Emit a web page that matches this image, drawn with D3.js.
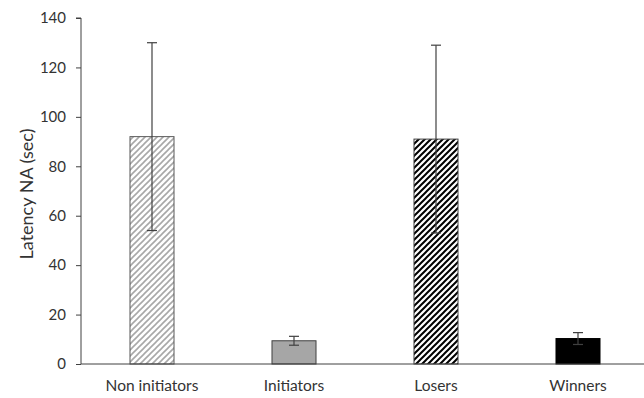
<!DOCTYPE html>
<html><head><meta charset="utf-8">
<script src="https://cdn.jsdelivr.net/npm/d3@7"></script>
<style>body{margin:0;background:#fff}svg{display:block}text{font-family:Lato,"Open Sans",sans-serif;fill:#333}</style>
</head><body>
<svg id="c" width="644" height="398"></svg>
<script>
const categories = ["Non initiators", "Initiators", "Losers", "Winners"];
const means = [92, 9.4, 91, 10.3];
const errors = [38, 1.8, 38, 2.4];
const yTicks = [0, 20, 40, 60, 80, 100, 120, 140];
const yLabel = "Latency NA (sec)";

const svg = d3.select("#c");
const m = {l: 81, t: 18, r: 0, b: 34};
const W = 644, H = 398;
const x = d3.scaleBand().domain(categories).range([m.l, 649]).paddingInner(0.69).paddingOuter(0.345);
const y = d3.scaleLinear().domain([0, 140]).range([364, 18]);

const defs = svg.append("defs");
function stripes(id, color, w) {
  const p = defs.append("pattern").attr("id", id).attr("patternUnits", "userSpaceOnUse")
    .attr("width", 6).attr("height", 6);
  p.append("rect").attr("width", 6).attr("height", 6).attr("fill", "#fff");
  p.append("path").attr("d", "M-1,1 l2,-2 M0,6 l6,-6 M5,7 l2,-2")
    .attr("stroke", color).attr("stroke-width", w);
}
stripes("lightStripe", "#a8a8a8", 1.6);
stripes("darkStripe", "#000", 2.0);
const fills = ["url(#lightStripe)", "#a6a6a6", "url(#darkStripe)", "#000"];
const strokes = ["#595959", "#404040", "#404040", "#000"];

// y axis
const ya = svg.append("g").attr("transform", `translate(${m.l},0)`)
  .call(d3.axisLeft(y).tickValues(yTicks).tickSize(5).tickPadding(10));
ya.select(".domain").attr("stroke", "#404040").attr("d", `M-5,${y(140)}H0V${y(0)}`);
ya.selectAll(".tick line").attr("stroke", "#404040");
ya.selectAll("text").attr("font-size", 15).attr("fill", "#333").style("font-family", 'Lato,"Open Sans",sans-serif');

// bars
svg.selectAll("rect.bar").data(categories).join("rect").attr("class", "bar")
  .attr("x", d => x(d)).attr("width", x.bandwidth())
  .attr("y", (d, i) => y(means[i])).attr("height", (d, i) => y(0) - y(means[i]))
  .attr("fill", (d, i) => fills[i]).attr("stroke", (d, i) => strokes[i]).attr("stroke-width", 1);

// x axis line
svg.append("line").attr("x1", m.l).attr("x2", W).attr("y1", y(0)).attr("y2", y(0))
  .attr("stroke", "#404040").attr("stroke-width", 1);

// error bars
const eb = svg.append("g").attr("stroke", "#404040").attr("stroke-width", 1.2);
categories.forEach((c, i) => {
  const cx = x(c) + x.bandwidth() / 2;
  const hi = y(means[i] + errors[i]), lo = y(means[i] - errors[i]);
  eb.append("line").attr("x1", cx).attr("x2", cx).attr("y1", hi).attr("y2", lo);
  eb.append("line").attr("x1", cx - 5).attr("x2", cx + 5).attr("y1", hi).attr("y2", hi);
  eb.append("line").attr("x1", cx - 5).attr("x2", cx + 5).attr("y1", lo).attr("y2", lo);
});

// x labels
svg.selectAll("text.xl").data(categories).join("text").attr("class", "xl")
  .attr("x", d => x(d) + x.bandwidth() / 2).attr("y", 391)
  .attr("text-anchor", "middle").attr("font-size", 15.5).text(d => d);

// y label
svg.append("text").attr("transform", `translate(33,194) rotate(-90)`)
  .attr("text-anchor", "middle").attr("font-size", 18).text(yLabel);
</script>
</body></html>
